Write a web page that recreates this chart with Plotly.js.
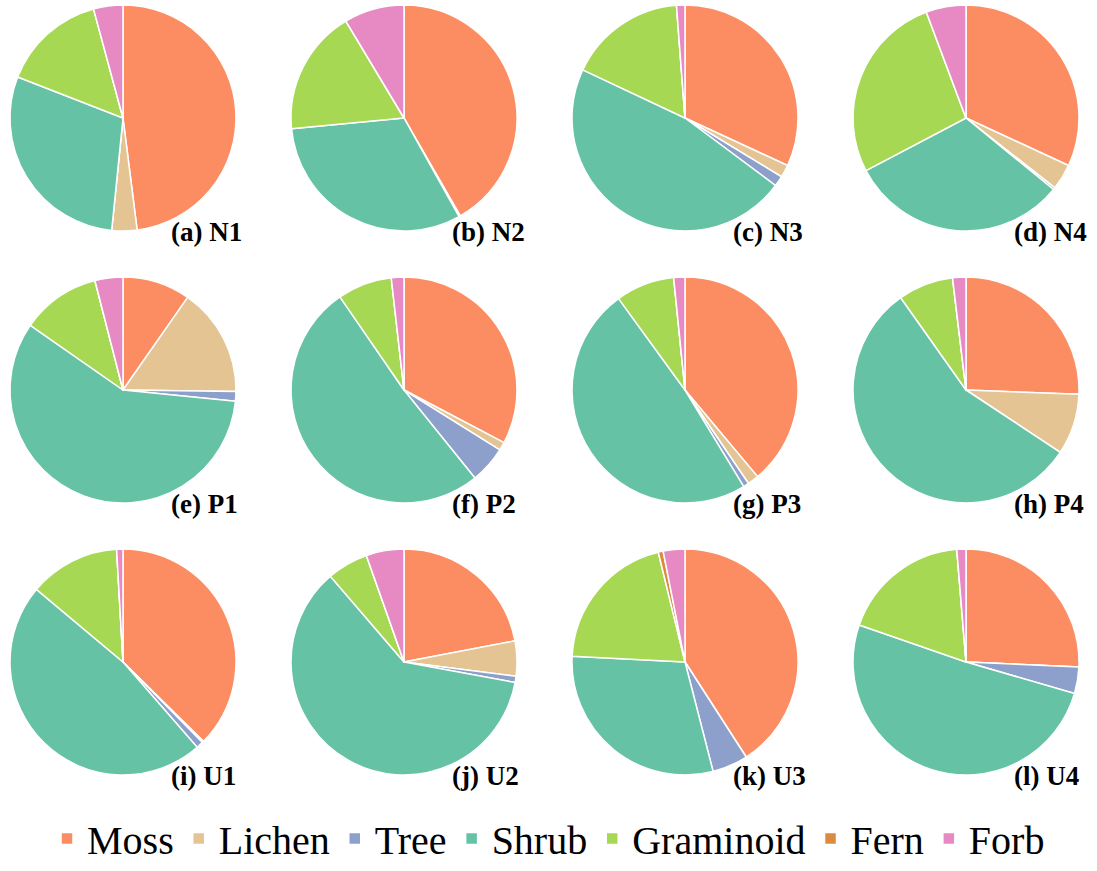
<!DOCTYPE html>
<html>
<head>
<meta charset="utf-8">
<script src="https://cdn.plot.ly/plotly-3.0.1.min.js"></script>
<style>
  html, body { margin: 0; padding: 0; background: #fff; }
  #chart { width: 1097px; height: 871px; }
</style>
</head>
<body>
<div id="chart"></div>
<script>
// Plant functional type composition (%) per plot
const groups = ['Moss', 'Lichen', 'Tree', 'Shrub', 'Graminoid', 'Fern', 'Forb'];
const groupColors = ['#fc8d62', '#e5c494', '#8da0cb', '#66c2a5', '#a6d854', '#dc8a3e', '#e78ac3'];

const plotNames = ['(a) N1', '(b) N2', '(c) N3', '(d) N4',
                   '(e) P1', '(f) P2', '(g) P3', '(h) P4',
                   '(i) U1', '(j) U2', '(k) U3', '(l) U4'];

//                Moss  Lichen Tree  Shrub Gram  Fern  Forb
const N1 = [48.0, 3.6, 0.0, 29.3, 14.9, 0.0, 4.2];
const N2 = [41.7, 0.2, 0.0, 31.6, 17.9, 0.0, 8.6];
const N3 = [31.9, 1.8, 1.5, 46.8, 16.8, 0.0, 1.2];
const N4 = [31.9, 3.7, 0.3, 31.4, 27.0, 0.0, 5.7];
const P1 = [9.7, 15.5, 1.4, 58.1, 11.3, 0.0, 4.0];
const P2 = [32.7, 1.2, 5.3, 51.2, 7.8, 0.0, 1.8];
const P3 = [38.9, 1.6, 0.8, 48.7, 8.4, 0.0, 1.6];
const P4 = [25.6, 8.7, 0.0, 55.9, 7.9, 0.0, 1.9];
const U1 = [37.4, 0.2, 1.0, 47.5, 13.0, 0.0, 0.9];
const U2 = [22.0, 5.0, 0.9, 60.8, 5.9, 0.0, 5.4];
const U3 = [40.9, 0.0, 5.1, 29.8, 20.4, 0.7, 3.1];
const U4 = [25.7, 0.0, 3.8, 50.8, 18.4, 0.0, 1.3];

const plotValues = [N1, N2, N3, N4, P1, P2, P3, P4, U1, U2, U3, U4];

const serif = 'Liberation Serif, Times New Roman, serif';

// Grid geometry (pixels)
const W = 1097, H = 871;
const colCenters = [123, 404, 685, 966];
const rowCenters = [118, 390, 662];
const R = 113;

const traces = [];
const annotations = [];
plotValues.forEach((vals, i) => {
  const cx = colCenters[i % 4];
  const cy = rowCenters[Math.floor(i / 4)];
  traces.push({
    type: 'pie',
    labels: groups,
    values: vals,
    sort: false,
    direction: 'clockwise',
    rotation: 0,
    textinfo: 'none',
    hoverinfo: 'label+percent',
    marker: { colors: groupColors, line: { color: '#ffffff', width: 1.5 } },
    domain: {
      x: [(cx - R) / W, (cx + R) / W],
      y: [1 - (cy + R) / H, 1 - (cy - R) / H]
    }
  });
  annotations.push({
    text: plotNames[i],
    xref: 'paper', yref: 'paper',
    x: (cx + 46) / W, y: 1 - (cy + 114) / H,
    xanchor: 'left', yanchor: 'middle',
    showarrow: false,
    font: { family: serif, size: 27, color: '#000', weight: 'bold' }
  });
});

const layout = {
  width: W, height: H,
  margin: { l: 0, r: 0, t: 0, b: 0, autoexpand: false },
  paper_bgcolor: '#ffffff',
  showlegend: true,
  legend: {
    orientation: 'h',
    x: 0.5, xanchor: 'center',
    y: 0, yanchor: 'bottom',
    font: { family: serif, size: 40, color: '#000' },
    itemwidth: 30,
    traceorder: 'normal'
  },
  annotations: annotations
};

Plotly.newPlot('chart', traces, layout, { displayModeBar: false, staticPlot: true });
</script>
</body>
</html>
